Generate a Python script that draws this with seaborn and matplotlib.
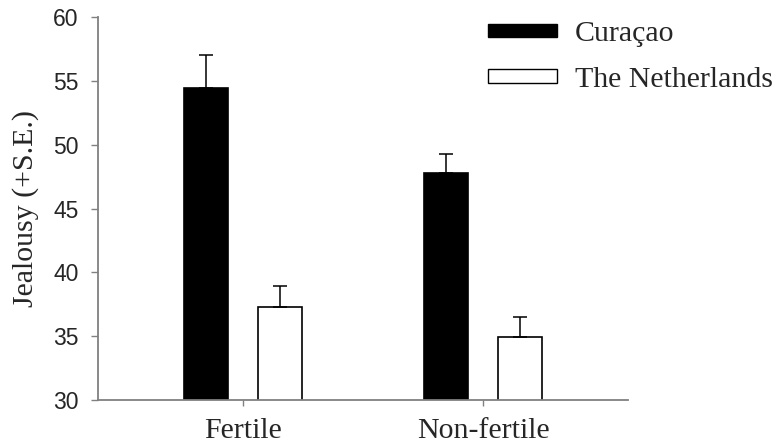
import matplotlib
matplotlib.use("Agg")
import matplotlib.pyplot as plt
import seaborn as sns
import pandas as pd
from matplotlib.patches import Patch

conditions = ["Fertile", "Non-fertile"]
countries = ["Curaçao", "The Netherlands"]
curacao_vals = [54.4, 47.75]
curacao_se = [2.6, 1.5]
nl_vals = [37.3, 34.9]
nl_se = [1.6, 1.6]
yticks = [30, 35, 40, 45, 50, 55, 60]

df = pd.DataFrame({
    "condition": conditions * 2,
    "country": [countries[0]] * 2 + [countries[1]] * 2,
    "value": curacao_vals + nl_vals,
    "se": curacao_se + nl_se,
})

sns.set_style("white")
fig = plt.figure(figsize=(7.79, 4.46), dpi=100)
ax = fig.add_axes([98/779, 1-400/446, 530/779, 383/446])

palette = {countries[0]: "black", countries[1]: "white"}
sns.barplot(data=df, x="condition", y="value", hue="country", order=conditions,
            hue_order=countries, palette=palette, width=0.61, gap=0.4,
            errorbar=None, edgecolor="black", linewidth=1.2, legend=False, ax=ax)

# error bars (upward only) at bar centers from the drawn patches
bars = [p for p in ax.patches if p.get_height() > 0]
for p in bars:
    xc = p.get_x() + p.get_width() / 2
    top = p.get_y() + p.get_height()
    cond = conditions[int(round(xc))]
    country = countries[0] if xc < round(xc) else countries[1]
    se = df[(df.condition == cond) & (df.country == country)]["se"].iloc[0]
    ax.errorbar([xc], [top], yerr=[[0], [se]], fmt="none", ecolor="black",
                elinewidth=1.1, capsize=5, capthick=1.1, zorder=1)

SERIF = 21.5
ax.set_ylim(30, 60)
ax.set_xlim(-0.604, 1.604)
ax.set_yticks(yticks)
ax.set_yticklabels([str(t) for t in yticks], family="Liberation Sans", fontsize=16.5)
ax.set_xticks([0, 1])
ax.set_xticklabels(conditions, family="Liberation Serif", fontsize=SERIF)
ax.set_xlabel("")
ax.set_ylabel("Jealousy (+S.E.)", family="Liberation Serif", fontsize=SERIF, labelpad=10)

for s in ["top", "right"]:
    ax.spines[s].set_visible(False)
for s in ["left", "bottom"]:
    ax.spines[s].set_color("#808080")
    ax.spines[s].set_linewidth(1.3)
ax.tick_params(axis="y", direction="out", length=5, width=1, color="#808080", pad=9, left=True)
ax.tick_params(axis="x", direction="out", length=4, width=1, color="#808080", pad=9, bottom=True)

handles = [Patch(facecolor="black", edgecolor="black", linewidth=1),
           Patch(facecolor="white", edgecolor="black", linewidth=1)]
fig.legend(handles, countries, loc="upper left", bbox_to_anchor=(488/779, 1-21/446),
           frameon=False, prop={"family": "Liberation Serif", "size": SERIF},
           handlelength=2.3, handleheight=0.32, handletextpad=0.6,
           labelspacing=0.66, borderpad=0, borderaxespad=0)

fig.savefig("out.png", dpi=100)
